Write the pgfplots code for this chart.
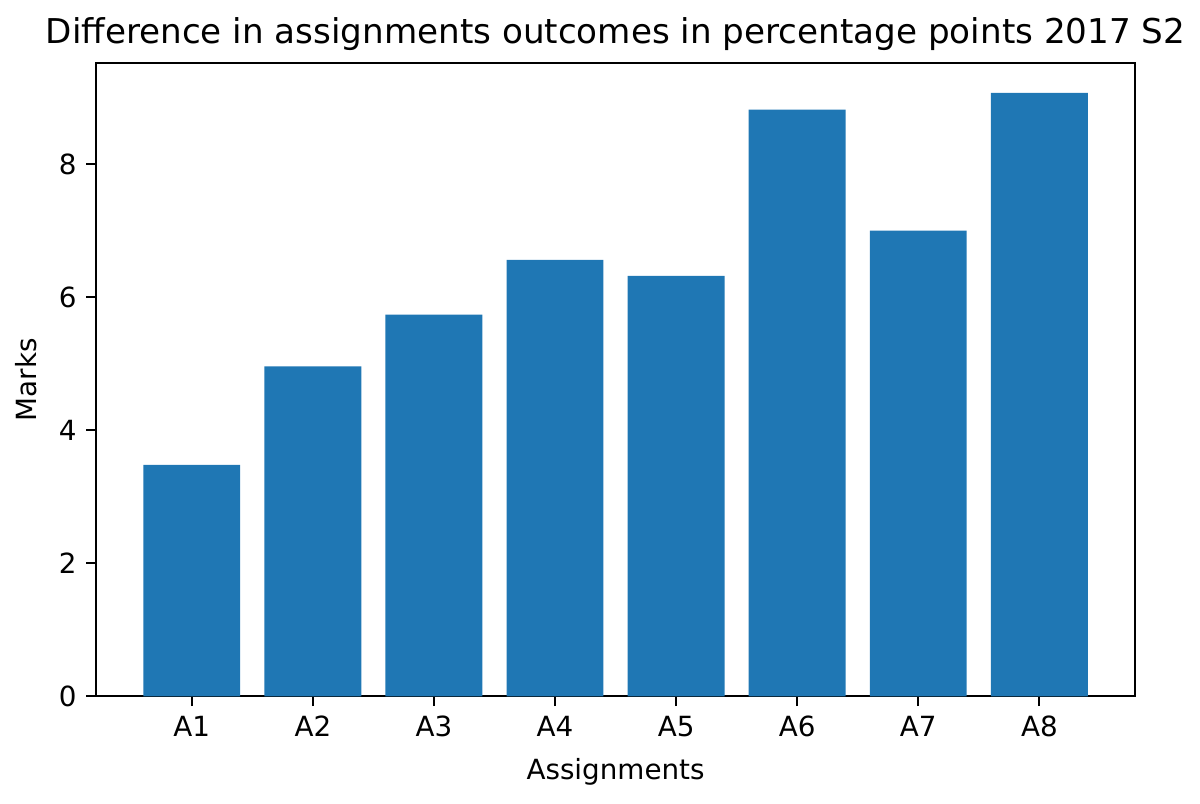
\documentclass[border=0pt]{standalone}
\usepackage{pgfplots}
\pgfplotsset{compat=1.18}
\usepackage{fontspec}
\setmainfont{DejaVu Sans}
\definecolor{mplblue}{HTML}{1F77B4}
\begin{document}
\begin{tikzpicture}
\begin{axis}[
  scale only axis,
  width=374pt, height=228pt,
  xmin=-0.79, xmax=7.79,
  ymin=0, ymax=9.52,
  xtick={0,1,2,3,4,5,6,7},
  xticklabels={A1,A2,A3,A4,A5,A6,A7,A8},
  ytick={0,2,4,6,8},
  tick align=outside,
  tick pos=lower,
  major tick length=3.5pt,
  tick style={black, line width=0.8pt},
  axis line style={line width=0.8pt},
  /pgf/number format/assume math mode=true,
  ticklabel style={font=\fontsize{10pt}{12pt}\selectfont},
  xlabel={Assignments}, ylabel={Marks},
  label style={font=\fontsize{10pt}{12pt}\selectfont},
  title={Difference in assignments outcomes in percentage points 2017 S2},
  title style={font=\fontsize{12.3pt}{14pt}\selectfont, yshift=-5pt},
  every axis x label/.style={at={(ticklabel cs:0.5)}, anchor=north, yshift=-1pt},
  every axis y label/.style={at={(ticklabel cs:0.5)}, anchor=south, rotate=90, yshift=1pt},
]
\addplot[ybar, bar width=0.8, fill=mplblue, draw=none, bar shift=0pt] coordinates {
  (0,3.48) (1,4.96) (2,5.74) (3,6.56) (4,6.32) (5,8.82) (6,7.00) (7,9.07)
};
\end{axis}
\pgfresetboundingbox
\path (-34.6pt,-38.5pt) rectangle (397.4pt,250.7pt);
\end{tikzpicture}
\end{document}
